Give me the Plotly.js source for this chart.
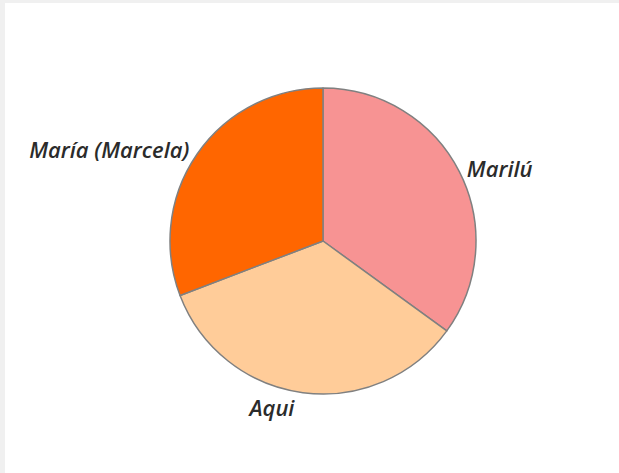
<!DOCTYPE html>
<html>
<head>
<meta charset="utf-8">
<script src="https://cdn.plot.ly/plotly-3.0.1.min.js"></script>
<style>
  html, body { margin: 0; padding: 0; background: #f0f0f0; width: 619px; height: 473px; overflow: hidden; }
  #chart { position: absolute; left: 5px; top: 3px; width: 614px; height: 470px; background: #fff; }
</style>
</head>
<body>
<div id="chart"></div>
<script>
const labels = ["Marilú", "Aqui", "María (Marcela)"];
const values = [35.0, 34.2, 30.8];
const colors = ["#F79393", "#FFCC99", "#FF6600"];

Plotly.newPlot("chart", [{
  type: "pie",
  labels: labels,
  values: values,
  sort: false,
  direction: "clockwise",
  rotation: 0,
  marker: { colors: colors, line: { color: "#808080", width: 1.5 } },
  textinfo: "label",
  textposition: "outside",
  outsidetextfont: { family: "Open Sans", size: 22, color: "#2b2b2b", style: "italic", weight: 600 },
  hoverinfo: "label+percent",
  automargin: false
}], {
  width: 614, height: 470,
  showlegend: false,
  margin: { l: 165, r: 143, t: 85, b: 79 },
  paper_bgcolor: "#ffffff"
}, { displayModeBar: false, staticPlot: true });
</script>
</body>
</html>
